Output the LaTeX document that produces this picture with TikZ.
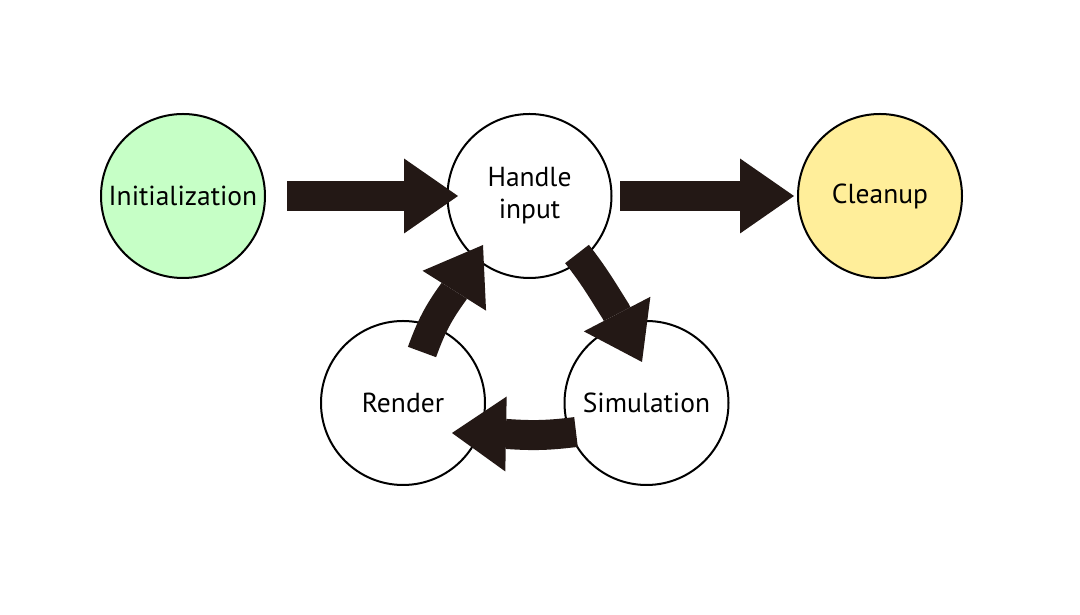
\documentclass[tikz,border=0pt]{standalone}
\usepackage{fontspec}
\setmainfont{PT Sans}
\usetikzlibrary{arrows.meta,positioning}
\definecolor{arrowcol}{HTML}{231815}
\definecolor{initgreen}{HTML}{C6FFC6}
\definecolor{cleanyellow}{HTML}{FFEE9A}
\tikzset{
  state/.style={circle,draw=black,line width=2pt,minimum size=164pt,align=center,
    font=\fontsize{27.5}{32}\selectfont},
  bigarrow/.style={draw=arrowcol,line width=30pt,
    -{Triangle[length=54pt,width=75pt,line width=0pt]}},
}
\begin{document}
\begin{tikzpicture}[x=1pt,y=1pt]
\useasboundingbox (0,0) rectangle (1080,615);

% states
\node[state,fill=initgreen] (init) at (183,419) {Initialization};
\node[state] (handle) at (529.5,419) {Handle\\input};
\node[state,fill=cleanyellow] (cleanup) at (880,419) {Cleanup};
\node[state] (render) at (403,212) {Render};
\node[state] (sim) at (646.5,212) {Simulation};

% straight arrows
\draw[bigarrow,shorten <=21pt,shorten >=-11.5pt] (init) -- (handle);
\draw[bigarrow,shorten <=7.5pt,shorten >=3pt] (handle) -- (cleanup);

% loop arrows: tail, head base, tip
\coordinate (hs0) at (577,361);
\coordinate (hsb) at (615.5,304);
\coordinate (hs1) at (642,253);
\coordinate (sr0) at (576,183);
\coordinate (srb) at (507,181);
\coordinate (sr1) at (452,182);
\coordinate (rh0) at (422,263);
\coordinate (rhb) at (453.5,323);
\coordinate (rh1) at (483,370);
\draw[bigarrow] (hs0) to[out=-52,in=122] (hsb) -- (hs1);
\draw[bigarrow] (sr0) to[out=187,in=-4] (srb) -- (sr1);
\draw[bigarrow] (rh0) to[out=70,in=-126] (rhb) -- (rh1);
\end{tikzpicture}
\end{document}
